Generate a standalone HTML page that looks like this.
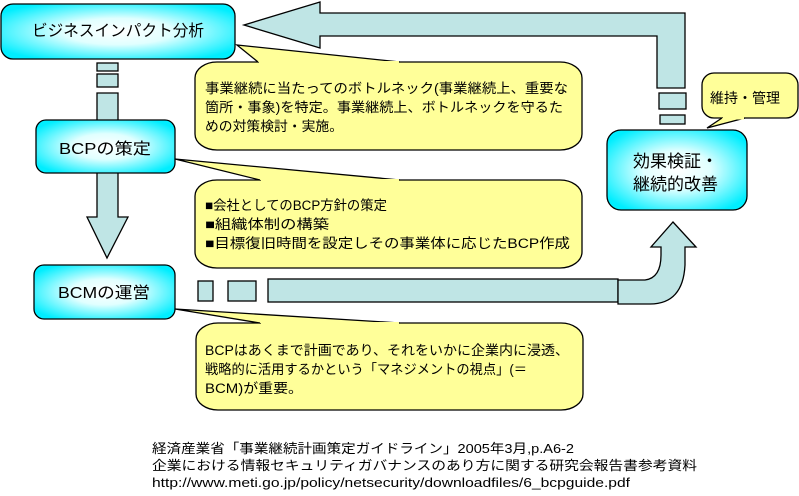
<!DOCTYPE html>
<html><head><meta charset="utf-8"><style>
html,body{margin:0;padding:0;background:#fff;width:799px;height:496px;overflow:hidden}
svg{display:block}
text{font-family:"Liberation Sans","Noto Sans CJK JP",sans-serif;fill:#000}
</style></head><body>
<svg width="799" height="496" viewBox="0 0 799 496" xmlns="http://www.w3.org/2000/svg">
<defs>
<radialGradient id="g" cx="50%" cy="50%" r="60%">
<stop offset="0" stop-color="#fff"/><stop offset="0.4" stop-color="#e0ffff"/><stop offset="1" stop-color="#00eeff"/>
</radialGradient>
</defs>
<g stroke="#000" stroke-width="1.3" fill="#bfe5e5">
<path d="M244,25 L320,2 L320,13 L685,13 L685,88 L657,88 L657,36 L320,36 L320,48 Z"/>
<rect x="659" y="93" width="27" height="16"/>
<rect x="660" y="115" width="25" height="9"/>
<rect x="97" y="63" width="21" height="8"/>
<rect x="97" y="74" width="21" height="13"/>
<path d="M97,93 L118,93 L118,217 L128,217 L107,258 L87,217 L97,217 Z"/>
<rect x="198" y="281" width="15" height="20"/>
<rect x="228" y="281" width="28" height="20"/>
<rect x="268" y="279" width="350" height="23"/>
<path d="M618,280 L645,280 Q661,278 661,255 L661,247 L651,247 L673,222 L696,247 L685,247 L685,265 Q683,304 650,304 L618,304 Z"/>
<g fill="#ffff99">
<rect x="195" y="62" width="387" height="88" rx="22" ry="16"/>
<rect x="195" y="180" width="387" height="88" rx="22" ry="16"/>
<rect x="196" y="323" width="387" height="87" rx="22" ry="16"/>
<rect x="702" y="73" width="96" height="45" rx="12"/>
</g>
<g fill="#ffff99" stroke-linejoin="miter">
<path d="M258,62 L237,45 L400,62"/>
<path d="M260,180 L175,159 L400,180"/>
<path d="M260,323 L175,309 L400,323"/>
<path d="M722,118 L707,128 L745,118"/>
</g>
<g fill="#ffff99" stroke="none">
<rect x="259" y="61" width="140" height="3"/>
<rect x="261" y="179" width="138" height="3"/>
<rect x="261" y="322" width="138" height="3"/>
<rect x="723" y="117" width="21" height="2.5"/>
</g>
<g fill="url(#g)">
<rect x="1" y="4" width="234" height="55" rx="12"/>
<rect x="36" y="120" width="139" height="53" rx="10"/>
<rect x="34" y="265" width="141" height="54" rx="10"/>
<rect x="607" y="130" width="140" height="80" rx="14"/>
</g>
</g>
<g font-size="16">
<text x="118" y="36" text-anchor="middle" textLength="172" lengthAdjust="spacingAndGlyphs">ビジネスインパクト分析</text>
<text x="105" y="154" text-anchor="middle" textLength="92" lengthAdjust="spacingAndGlyphs">BCPの策定</text>
<text x="104" y="298" text-anchor="middle" textLength="92" lengthAdjust="spacingAndGlyphs">BCMの運営</text>
</g>
<g font-size="17">
<text x="633" y="167">効果検証・</text>
<text x="633" y="190">継続的改善</text>
</g>
<text x="710" y="103" font-size="14">維持・管理</text>
<g font-size="13.5">
<text x="205" y="93" textLength="363" lengthAdjust="spacingAndGlyphs">事業継続に当たってのボトルネック(事業継続上、重要な</text>
<text x="205" y="112" textLength="358" lengthAdjust="spacingAndGlyphs">箇所・事象)を特定。事業継続上、ボトルネックを守るた</text>
<text x="205" y="131" textLength="138" lengthAdjust="spacingAndGlyphs">めの対策検討・実施。</text>
<text x="205" y="210" textLength="182" lengthAdjust="spacingAndGlyphs">■会社としてのBCP方針の策定</text>
<text x="205" y="229" textLength="124" lengthAdjust="spacingAndGlyphs">■組織体制の構築</text>
<text x="205" y="248" textLength="365" lengthAdjust="spacingAndGlyphs">■目標復旧時間を設定しその事業体に応じたBCP作成</text>
<text x="205" y="355" textLength="364" lengthAdjust="spacingAndGlyphs">BCPはあくまで計画であり、それをいかに企業内に浸透、</text>
<text x="205" y="374" textLength="322" lengthAdjust="spacingAndGlyphs">戦略的に活用するかという「マネジメントの視点」(＝</text>
<text x="205" y="393" textLength="98" lengthAdjust="spacingAndGlyphs">BCM)が重要。</text>
</g>
<g font-size="13">
<text x="152" y="453" textLength="422" lengthAdjust="spacingAndGlyphs">経済産業省「事業継続計画策定ガイドライン」2005年3月,p.A6-2</text>
<text x="152" y="470" textLength="545" lengthAdjust="spacingAndGlyphs">企業における情報セキュリティガバナンスのあり方に関する研究会報告書参考資料</text>
<text x="152" y="487" textLength="478" lengthAdjust="spacingAndGlyphs">http://www.meti.go.jp/policy/netsecurity/downloadfiles/6_bcpguide.pdf</text>
</g>
</svg>
</body></html>
